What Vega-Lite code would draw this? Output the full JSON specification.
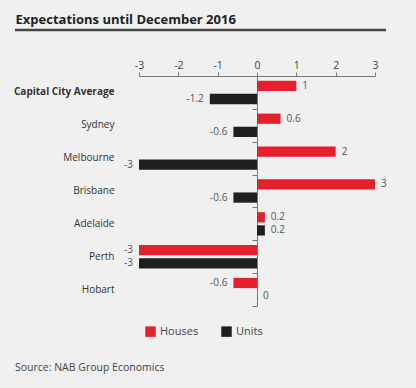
{
  "$schema": "https://vega.github.io/schema/vega-lite/v6.json",
  "width": 236,
  "height": 230,
  "autosize": "none",
  "padding": {"left": 139, "top": 76, "right": 41, "bottom": 82},
  "background": "#f0f0f0",
  "config": {"font": "Open Sans", "view": {"stroke": null}},
  "title": {
    "text": "Source: NAB Group Economics",
    "orient": "bottom",
    "anchor": "start",
    "frame": "group",
    "dx": -124,
    "offset": 26,
    "fontSize": 10.5,
    "fontWeight": "normal",
    "color": "#444"
  },
  "data": {
    "values": [
      {"city": "Capital City Average", "type": "Houses", "value": 1},
      {"city": "Capital City Average", "type": "Units", "value": -1.2},
      {"city": "Sydney", "type": "Houses", "value": 0.6},
      {"city": "Sydney", "type": "Units", "value": -0.6},
      {"city": "Melbourne", "type": "Houses", "value": 2},
      {"city": "Melbourne", "type": "Units", "value": -3},
      {"city": "Brisbane", "type": "Houses", "value": 3},
      {"city": "Brisbane", "type": "Units", "value": -0.6},
      {"city": "Adelaide", "type": "Houses", "value": 0.2},
      {"city": "Adelaide", "type": "Units", "value": 0.2},
      {"city": "Perth", "type": "Houses", "value": -3},
      {"city": "Perth", "type": "Units", "value": -3},
      {"city": "Hobart", "type": "Houses", "value": -0.6},
      {"city": "Hobart", "type": "Units", "value": 0}
    ]
  },
  "encoding": {
    "x": {
      "field": "value", "type": "quantitative",
      "scale": {"domain": [-3, 3], "nice": false},
      "axis": {
        "orient": "top", "values": [-3, -2, -1, 0, 1, 2, 3], "grid": false,
        "labelExpr": "'' + datum.value", "labelOverlap": false, "labelFlush": false,
        "tickSize": 4, "tickColor": "#777", "domainColor": "#777",
        "labelFontSize": 10.5, "labelColor": "#444", "labelPadding": 2,
        "title": "Expectations until December 2016",
        "titleX": -124, "titleY": -53, "titleAlign": "left", "titleAnchor": null,
        "titleBaseline": "alphabetic", "titleFontSize": 13, "titleFontWeight": "bold", "titleColor": "#222"
      }
    }
  },
  "resolve": {"axis": {"y": "independent"}},
  "layer": [
    {
      "mark": {"type": "bar"},
      "encoding": {
        "y": {
          "field": "city", "type": "nominal", "sort": null,
          "scale": {"paddingInner": 0, "paddingOuter": 0},
          "axis": {
            "orient": "left", "title": null, "ticks": false, "domain": false,
            "labelPadding": 25, "labelFontSize": 10, "labelColor": "#333", "labelLimit": 200,
            "labelFontWeight": {"condition": {"test": "datum.value == 'Capital City Average'", "value": "bold"}, "value": "normal"}
          }
        },
        "yOffset": {
          "field": "type", "type": "nominal", "sort": ["Houses", "Units"],
          "scale": {"paddingInner": 0.22, "paddingOuter": 0.36}
        },
        "color": {
          "field": "type", "type": "nominal",
          "scale": {"domain": ["Houses", "Units"], "range": ["#e5202b", "#1f1f1f"]},
          "legend": {
            "orient": "none", "legendX": 6, "legendY": 250, "direction": "horizontal",
            "title": null, "symbolType": "square", "symbolSize": 110, "symbolStrokeWidth": 0,
            "labelFontSize": 11, "labelColor": "#444", "columnPadding": 22, "labelOffset": 4
          }
        }
      }
    },
    {
      "transform": [{"filter": "datum.value >= 0"}],
      "mark": {"type": "text", "align": "left", "dx": 6, "fontSize": 10, "color": "#555"},
      "encoding": {
        "y": {
          "field": "city", "type": "nominal", "sort": null,
          "axis": {
            "orient": "left", "offset": -118, "labels": false, "ticks": true, "tickBand": "extent",
            "tickSize": 5, "tickColor": "#777", "domain": true, "domainColor": "#777", "title": null, "grid": false
          }
        },
        "yOffset": {"field": "type", "type": "nominal", "sort": ["Houses", "Units"]},
        "text": {"field": "value", "type": "nominal"}
      }
    },
    {
      "transform": [{"filter": "datum.value < 0"}],
      "mark": {"type": "text", "align": "right", "dx": -6, "fontSize": 10, "color": "#555"},
      "encoding": {
        "y": {"field": "city", "type": "nominal", "sort": null, "axis": null},
        "yOffset": {"field": "type", "type": "nominal", "sort": ["Houses", "Units"]},
        "text": {"field": "value", "type": "nominal"}
      }
    },
    {
      "data": {"values": [{}]},
      "mark": {"type": "rule", "color": "#444", "strokeWidth": 2.5},
      "encoding": {
        "x": {"value": -124},
        "x2": {"value": 247},
        "y": {"value": -46}
      }
    }
  ]
}
